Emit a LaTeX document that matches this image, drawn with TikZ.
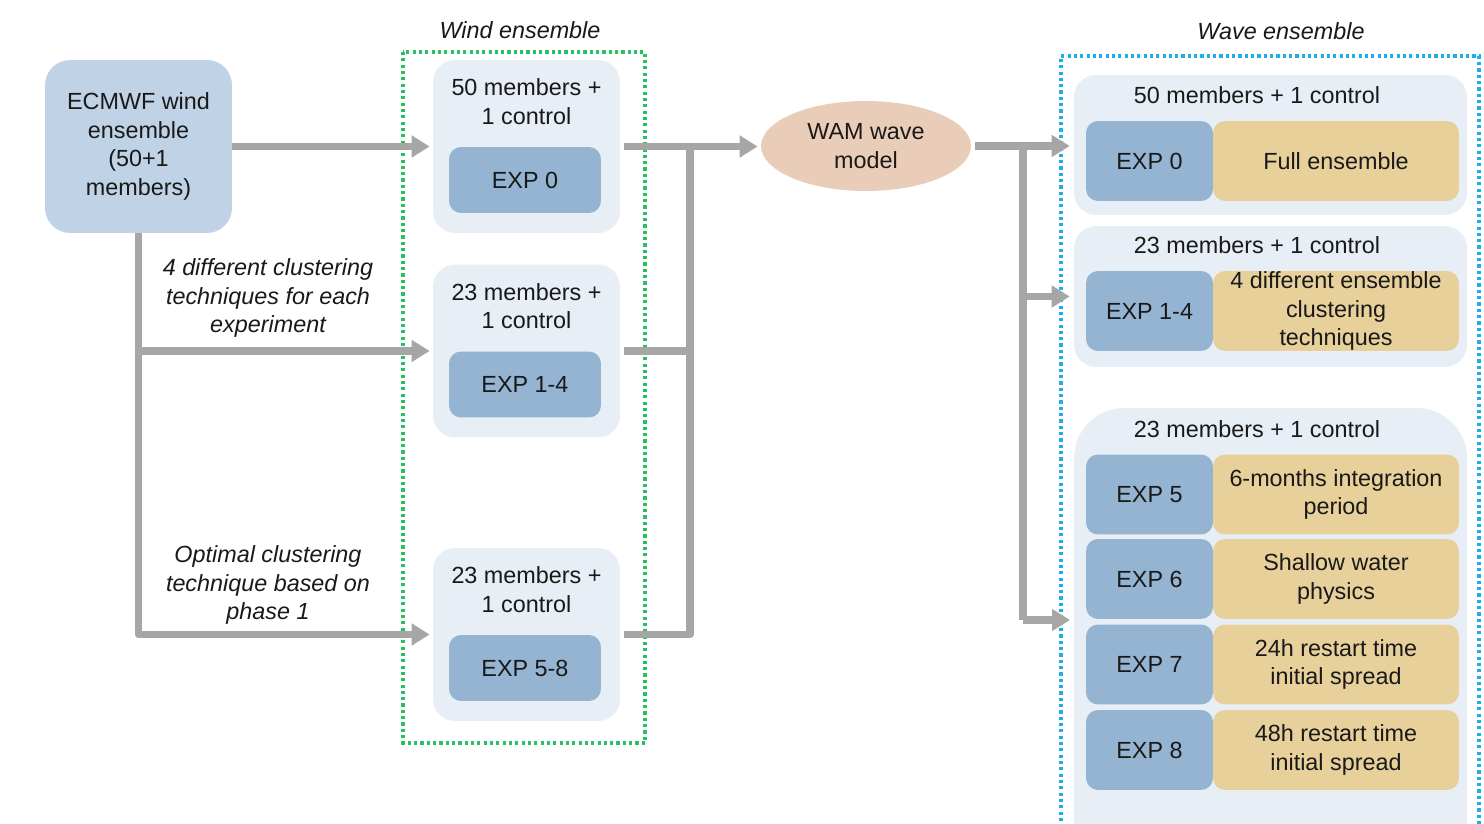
\documentclass[tikz,border=0pt]{standalone}
\usepackage{fontspec}
\setmainfont{Liberation Sans}
\usepackage{tikz}
\usetikzlibrary{arrows.meta,shapes.geometric}

\definecolor{srcblue}{RGB}{192,211,230}
\definecolor{groupbg}{RGB}{232,238,246}
\definecolor{expblue}{RGB}{148,180,210}
\definecolor{desctan}{RGB}{232,208,155}
\definecolor{wampeach}{RGB}{234,205,184}
\definecolor{flowgray}{RGB}{166,166,166}
\definecolor{windgreen}{RGB}{38,194,98}
\definecolor{wavecyan}{RGB}{30,175,235}

\tikzset{
	every node/.style={font=\fontsize{13.3}{16.2}\selectfont, text=black!90},
	note/.style={align=center, font=\fontsize{13.3}{16.2}\selectfont\itshape},
	group/.style={fill=groupbg, rounded corners=0.44cm, inner sep=0pt},
	expbox/.style={fill=expblue, rounded corners=0.24cm, inner sep=0pt, align=center},
	descbox/.style={fill=desctan, rounded corners=0.24cm, inner sep=0pt, align=center, minimum width=4.92cm, minimum height=1.6cm},
	pipe/.style={draw=flowgray, line width=4.2pt, line join=round},
	flow/.style={pipe, -{Triangle[length=0.36cm,width=0.42cm]}},
	frame/.style={line width=1.9pt, dash pattern=on 1.8pt off 1.8pt}
}

\begin{document}
\begin{tikzpicture}[x=0.02cm, y=-0.02cm]
					% Page size
					\clip (0,0) rectangle (1484,824);
					% Source ensemble
					\node[fill=srcblue, rounded corners=0.5cm, minimum width=3.74cm, minimum height=3.46cm, align=center] (src) at (138.5,146.5) {ECMWF wind\\ensemble\\(50+1\\members)};
					% Wind ensemble frame and groups
					\draw[frame, windgreen] (403,52) rectangle (645,743);
					\node[note] (windtitle) at (520,30) {Wind ensemble};
					\foreach \g/\y/\n/\e in {1/146.5/50/EXP 0, 2/351/23/EXP 1-4, 3/634.5/23/EXP 5-8}{
						\node[group, minimum width=3.74cm, minimum height=3.46cm] (w\g) at (526.5,\y) {};
						\node[align=center] (w\g t) at (526.5,\y-45) {\n\ members +\\1 control};
						\node[expbox, minimum width=3.04cm, minimum height=1.32cm] (w\g e) at (525,\y+33.5) {\e};}
					% Clustering notes
					\node[note] (lab1) at (268,298) {4 different clustering\\techniques for each\\experiment};
					\node[note] (lab2) at (268,585) {Optimal clustering\\technique based on\\phase 1};
					% Wave model
					\node[ellipse, fill=wampeach, minimum width=4.2cm, minimum height=1.8cm, align=center, inner sep=0pt] (wam) at (866,146) {WAM wave\\model};
					% Wave ensemble frame and groups
					\draw[frame, wavecyan] (1061,840) -- (1061,56) -- (1479,56) -- (1479,840);
					\node[note] (wavetitle) at (1281,31) {Wave ensemble};
					\node[group, minimum width=7.86cm, minimum height=2.8cm] (g1) at (1270.5,145) {};
					\node[group, minimum width=7.86cm, minimum height=2.82cm] (g2) at (1270.5,296.5) {};
					\node[group, rounded corners=1cm, minimum width=7.86cm, minimum height=9.84cm] (g3) at (1270.5,654) {};
					\node (g1t) at (1257,95) {50 members + 1 control};
					\node (g2t) at (1257,245) {23 members + 1 control};
					\node (g3t) at (1257,429) {23 members + 1 control};
					% Experiment rows
					\foreach \n/\e/\y/\d in {0/EXP 0/161/{Full ensemble}, 1/EXP 1-4/311/{4 different ensemble\\clustering\\techniques}, 5/EXP 5/494.5/{6-months integration\\period}, 6/EXP 6/579/{Shallow water\\physics}, 7/EXP 7/664.5/{24h restart time\\initial spread}, 8/EXP 8/750/{48h restart time\\initial spread}}{
						\node[expbox, minimum width=2.54cm, minimum height=1.6cm] (exp\n) at (1149.5,\y) {\e};
						\node[descbox] (desc\n) at (1336,\y) {\d};}
					% Connectors
					\draw[flow, shorten >=0.06cm] (src.east) -- (w1.west);
					\draw[flow, shorten >=0.06cm] (src.south) |- (w3.west);
					\draw[flow, shorten >=0.06cm] (src.south |- w2.west) -- (w2.west);
					\coordinate (windjoin) at (690,146.5);
					\draw[flow, shorten <=0.08cm, shorten >=0.06cm] (w1.east) -- (w1.east -| wam.west);
					\draw[pipe, shorten <=0.08cm] (w3.east) -| (windjoin);
					\draw[pipe, shorten <=0.08cm] (w2.east) -- (w2.east -| windjoin);
					\coordinate (wavejoin) at (1023,146);
					\coordinate (g3in) at (1074,620);
					\draw[flow, shorten <=0.08cm, shorten >=0.08cm] (wam.east) -- (wam.east -| g1.west);
					\draw[pipe] (wavejoin) -- (wavejoin |- g3in);
					\draw[flow, shorten >=0.08cm] (wavejoin |- g2.west) -- (g2.west);
					\draw[flow, shorten >=0.08cm] (wavejoin |- g3in) -- (g3in);
				\end{tikzpicture}
\end{document}
